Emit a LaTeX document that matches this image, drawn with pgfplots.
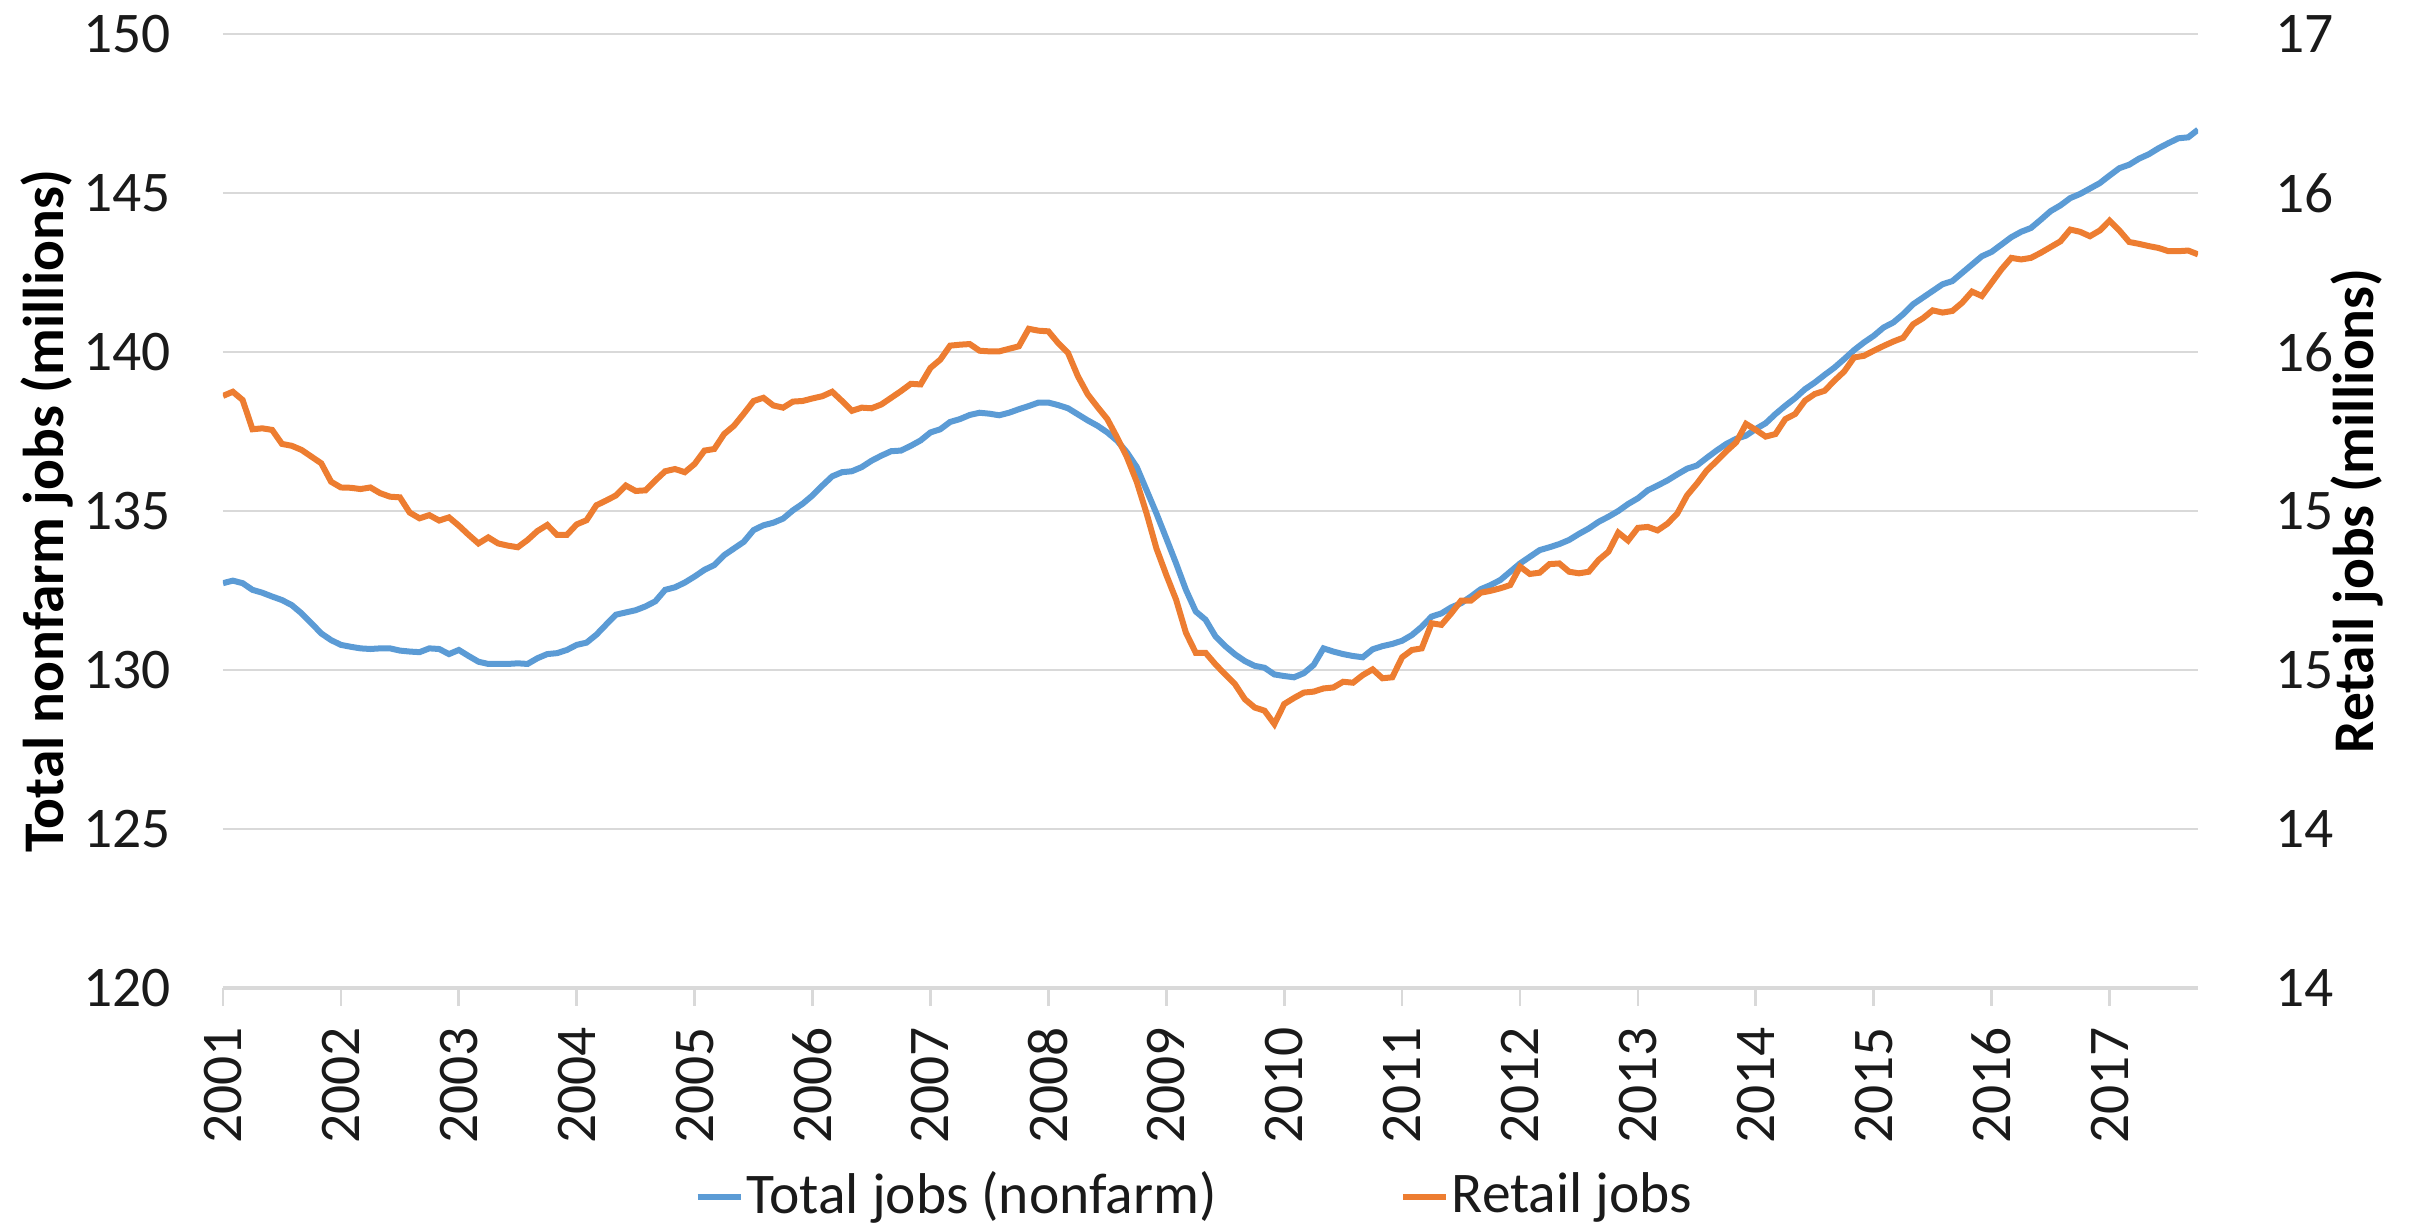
\documentclass[border=0pt]{standalone}
\usepackage{fontspec}
\setmainfont{Carlito}
\usepackage{pgfplots}
\usepackage{pgfplotstable}
\pgfplotsset{compat=1.18}
\definecolor{cblue}{HTML}{5B9BD5}
\definecolor{corange}{HTML}{ED7D31}
\definecolor{gridgray}{HTML}{D9D9D9}
\definecolor{txt}{HTML}{1A1A1A}

\pgfplotstableread{
v
132.73
132.81
132.73
132.52
132.43
132.31
132.20
132.04
131.78
131.47
131.15
130.94
130.79
130.73
130.68
130.66
130.68
130.68
130.61
130.58
130.56
130.68
130.66
130.50
130.63
130.44
130.26
130.19
130.19
130.19
130.21
130.19
130.37
130.50
130.53
130.63
130.79
130.86
131.11
131.43
131.74
131.81
131.88
132.00
132.16
132.52
132.60
132.75
132.94
133.15
133.30
133.61
133.82
134.03
134.40
134.55
134.63
134.76
135.02
135.23
135.49
135.80
136.09
136.22
136.25
136.38
136.58
136.74
136.88
136.90
137.05
137.22
137.47
137.57
137.80
137.89
138.02
138.09
138.06
138.01
138.09
138.20
138.30
138.41
138.41
138.33
138.23
138.04
137.85
137.68
137.47
137.21
136.84
136.38
135.65
134.92
134.14
133.35
132.52
131.84
131.58
131.06
130.75
130.49
130.28
130.13
130.07
129.86
129.81
129.77
129.90
130.16
130.68
130.58
130.50
130.44
130.40
130.65
130.75
130.82
130.92
131.10
131.36
131.68
131.78
131.97
132.10
132.31
132.54
132.67
132.83
133.09
133.35
133.56
133.77
133.86
133.96
134.09
134.28
134.45
134.66
134.82
135.00
135.22
135.40
135.65
135.80
135.96
136.15
136.33
136.43
136.67
136.90
137.11
137.27
137.37
137.58
137.76
138.05
138.31
138.55
138.83
139.04
139.28
139.51
139.78
140.06
140.30
140.51
140.77
140.93
141.19
141.50
141.71
141.92
142.13
142.23
142.49
142.75
143.01
143.15
143.38
143.61
143.78
143.90
144.16
144.43
144.61
144.84
144.97
145.14
145.31
145.55
145.78
145.89
146.08
146.22
146.41
146.57
146.72
146.75
146.99
}\totaljobs

\pgfplotstableread{
v
15.462
15.475
15.449
15.357
15.360
15.355
15.311
15.305
15.292
15.271
15.250
15.192
15.174
15.173
15.169
15.174
15.156
15.145
15.143
15.095
15.077
15.087
15.070
15.080
15.054
15.025
14.998
15.017
14.998
14.991
14.986
15.009
15.037
15.056
15.025
15.025
15.058
15.071
15.118
15.133
15.149
15.180
15.163
15.165
15.196
15.225
15.232
15.222
15.248
15.290
15.295
15.342
15.368
15.406
15.446
15.456
15.432
15.425
15.444
15.446
15.454
15.461
15.475
15.446
15.415
15.425
15.423
15.435
15.456
15.477
15.500
15.498
15.550
15.576
15.620
15.623
15.625
15.604
15.602
15.602
15.610
15.618
15.673
15.667
15.665
15.628
15.597
15.524
15.467
15.427
15.389
15.331
15.269
15.191
15.092
14.982
14.899
14.821
14.717
14.654
14.654
14.618
14.586
14.555
14.508
14.482
14.472
14.430
14.493
14.512
14.529
14.532
14.542
14.545
14.563
14.560
14.584
14.602
14.574
14.577
14.640
14.663
14.668
14.747
14.742
14.778
14.818
14.818
14.843
14.849
14.857
14.867
14.925
14.902
14.906
14.933
14.935
14.909
14.904
14.909
14.946
14.972
15.032
15.007
15.047
15.050
15.039
15.060
15.092
15.149
15.186
15.227
15.257
15.288
15.316
15.374
15.355
15.334
15.342
15.389
15.405
15.447
15.468
15.478
15.510
15.539
15.583
15.588
15.604
15.619
15.633
15.645
15.687
15.706
15.731
15.724
15.729
15.755
15.790
15.776
15.818
15.860
15.896
15.891
15.896
15.912
15.930
15.948
15.985
15.978
15.964
15.982
16.013
15.982
15.946
15.940
15.933
15.927
15.917
15.917
15.919
15.907
}\retailjobs

\begin{document}
\fontsize{11.5pt}{13pt}\selectfont
\begin{tikzpicture}
\path[use as bounding box] (-44.6pt,-48.2pt) rectangle (437.4pt,197.6pt);
\begin{axis}[
  at={(0pt,0pt)}, anchor=south west,
  scale only axis, width=395pt, height=190.8pt,
  xmin=0, xmax=201, ymin=120, ymax=150,
  axis x line*=bottom, axis y line*=left,
  x axis line style={color=gridgray, line width=0.7pt, -},
  y axis line style={draw=none},
  ytick={120,125,...,150},
  xtick={0,12,...,192},
  xticklabels={2001,2002,2003,2004,2005,2006,2007,2008,2009,2010,2011,2012,2013,2014,2015,2016,2017},
  ymajorgrids, grid style={color=gridgray, line width=0.55pt},
  tick align=outside, major tick length=3.6pt,
  xtick style={color=gridgray, line width=0.55pt},
  ytick style={draw=none},
  /pgf/number format/assume math mode=true,
  tick label style={font=\fontsize{11.5pt}{13pt}\selectfont, text=txt},
  xticklabel style={rotate=90, anchor=east, inner sep=0pt},
  yticklabel style={anchor=east, inner sep=0pt},
  yticklabel shift=6.6pt,
  xticklabel shift=4pt,
  ylabel={\bfseries Total nonfarm jobs (millions)},
  ylabel style={at={(axis description cs:-0.0891,0.5)}, anchor=center, font=\fontsize{11.5pt}{13pt}\selectfont, text=black},
]
\addplot[color=cblue, line width=1.2pt, no markers] table[x expr=\coordindex, y=v] {\totaljobs};
\end{axis}
\begin{axis}[
  at={(0pt,0pt)}, anchor=south west,
  scale only axis, width=395pt, height=190.8pt,
  xmin=0, xmax=201, ymin=13.6, ymax=16.6,
  axis x line=none, axis y line*=right,
  y axis line style={draw=none},
  ytick={13.6,14.1,14.6,15.1,15.6,16.1,16.6},
  yticklabels={14,14,15,15,16,16,17},
  ytick style={draw=none},
  tick label style={font=\fontsize{11.5pt}{13pt}\selectfont, text=txt},
  yticklabel style={anchor=west, inner sep=0pt},
  yticklabel shift=15.2pt,
  ylabel={\bfseries Retail jobs (millions)},
  ylabel style={at={(axis description cs:1.0805,0.5)}, anchor=center, font=\fontsize{11.5pt}{13pt}\selectfont, text=black},
  legend columns=2,
  legend style={at={(0.5,-0.219)}, anchor=center, xshift=-3.1pt, draw=none, fill=none, inner sep=0pt,
    font=\fontsize{11.5pt}{13pt}\selectfont, text=txt, nodes={inner sep=0.6pt}},
  legend cell align=left,
  legend image code/.code={\draw[#1] (0pt,0pt) -- (8.6pt,0pt);},
]
\addlegendimage{color=cblue, line width=1.2pt}
\addlegendentry{Total jobs (nonfarm)\hspace*{36pt}\mbox{}}
\addplot[color=corange, line width=1.2pt, no markers] table[x expr=\coordindex, y=v] {\retailjobs};
\addlegendentry{Retail jobs}
\end{axis}
\end{tikzpicture}
\end{document}
